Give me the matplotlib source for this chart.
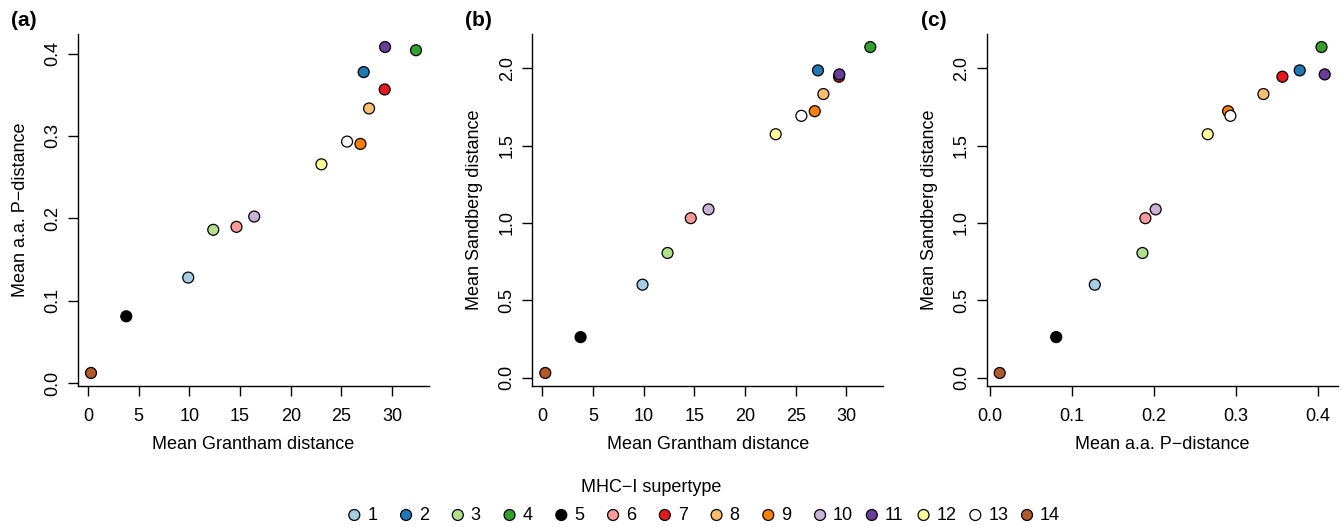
import matplotlib
matplotlib.use("Agg")
import matplotlib.pyplot as plt
import numpy as np

plt.rcParams['font.family'] = ['Liberation Sans', 'DejaVu Sans']

supertypes = [1, 2, 3, 4, 5, 6, 7, 8, 9, 10, 11, 12, 13, 14]
grantham = [9.89, 27.20, 12.36, 32.36, 3.78, 14.65, 29.27, 27.73, 26.88, 16.40, 29.31, 23.03, 25.56, 0.30]
p_distance = [0.128, 0.3775, 0.186, 0.404, 0.081, 0.1896, 0.3564, 0.3333, 0.2903, 0.2021, 0.4079, 0.2655, 0.2931, 0.0122]
sandberg = [0.601, 1.987, 0.806, 2.138, 0.262, 1.031, 1.946, 1.834, 1.723, 1.088, 1.961, 1.574, 1.693, 0.030]
colors = ['#A6CEE3', '#1F78B4', '#B2DF8A', '#33A02C', '#000000', '#FB9A99', '#E31A1C',
          '#FDBF6F', '#FF7F00', '#CAB2D6', '#6A3D9A', '#FFFF99', '#FFFFFF', '#B15928']

panel_tags = ['(a)', '(b)', '(c)']
x_labels = ['Mean Grantham distance', 'Mean Grantham distance', 'Mean a.a. P\u2212distance']
y_labels = ['Mean a.a. P\u2212distance', 'Mean Sandberg distance', 'Mean Sandberg distance']
x_ticks = [[0, 5, 10, 15, 20, 25, 30], [0, 5, 10, 15, 20, 25, 30], [0.0, 0.1, 0.2, 0.3, 0.4]]
y_ticks = [[0.0, 0.1, 0.2, 0.3, 0.4], [0.0, 0.5, 1.0, 1.5, 2.0], [0.0, 0.5, 1.0, 1.5, 2.0]]
x_fmt = ['{:g}', '{:g}', '{:.1f}']
y_fmt = ['{:.1f}', '{:.1f}', '{:.1f}']
xs = [grantham, grantham, p_distance]
ys = [p_distance, sandberg, sandberg]

W, H = 1343, 527
fig = plt.figure(figsize=(W / 100, H / 100), dpi=100)

lefts_px = [78, 532.3, 986.7]
ax_w_px = 351
bottom_px = 386
top_px = 34
tag_px = [(11.5, 20), (465.5, 20), (920.5, 20)]
FS = 13

for k in range(3):
    ax = fig.add_axes([lefts_px[k] / W, 1 - bottom_px / H, ax_w_px / W, (bottom_px - top_px) / H])
    ax.scatter(xs[k], ys[k], s=62, c=colors, edgecolors='black', linewidths=0.9, zorder=3, clip_on=False)
    ax.margins(0.04)
    ax.spines['top'].set_visible(False)
    ax.spines['right'].set_visible(False)
    for sp in ['left', 'bottom']:
        ax.spines[sp].set_linewidth(1.0)
    ax.set_xticks(x_ticks[k])
    ax.set_xticklabels([x_fmt[k].format(v) for v in x_ticks[k]])
    ax.set_yticks(y_ticks[k])
    ax.set_yticklabels([y_fmt[k].format(v) for v in y_ticks[k]], rotation=90, va='center')
    ax.tick_params(axis='both', direction='out', length=7, width=1.0, labelsize=FS)
    ax.tick_params(axis='x', pad=9)
    ax.tick_params(axis='y', pad=5)
    ax.set_xlabel(x_labels[k], fontsize=FS, labelpad=8)
    ax.set_ylabel(y_labels[k], fontsize=FS, labelpad=11)
    fig.text(tag_px[k][0] / W, 1 - tag_px[k][1] / H, panel_tags[k], fontsize=15, fontweight='bold',
             ha='left', va='center')

# Legend
step = 51.75
first = 354.3
lax = fig.add_axes([(first - step) / W, 1 - 525 / H, 15 * step / W, 20 / H])
lax.set_xlim(0, 15)
lax.set_ylim(-1, 1)
lax.axis('off')
lax.scatter(supertypes, [0] * len(supertypes), s=62, c=colors, edgecolors='black', linewidths=0.9, clip_on=False)
for st in supertypes:
    lax.text(st + 0.25, 0, str(st), fontsize=FS, ha='left', va='center')
fig.text(651 / W, 1 - 487 / H, 'MHC\u2212I supertype', fontsize=FS, ha='center', va='center')

fig.savefig('out.png', dpi=100)
